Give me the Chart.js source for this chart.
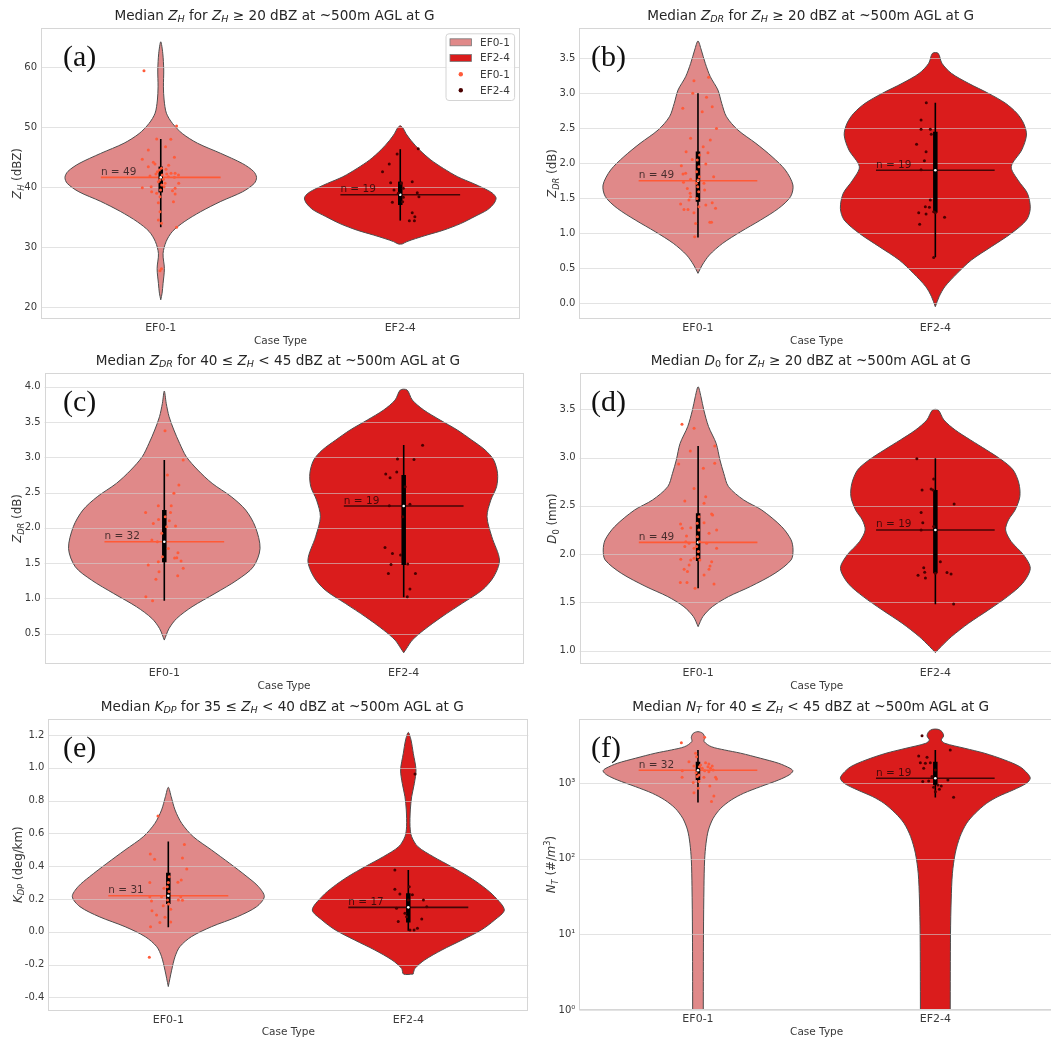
<!DOCTYPE html>
<html>
<head>
<meta charset="utf-8">
<script src="https://cdn.jsdelivr.net/npm/chart.js@4.4.1/dist/chart.umd.min.js"></script>
<style>
  html, body { margin: 0; padding: 0; background: #fff; overflow: hidden; width: 1051px; height: 1038px; }
  canvas { position: absolute; }
</style>
</head>
<body>
<canvas id="pa"></canvas>
<canvas id="pb"></canvas>
<canvas id="pc"></canvas>
<canvas id="pd"></canvas>
<canvas id="pe"></canvas>
<canvas id="pf"></canvas>
<script>
// ---------- categories ----------
const caseTypes = ['EF0-1', 'EF2-4'];

// Violin profiles are [value, relative width] pairs (1 = widest part of that violin).
// Box summaries are [lower whisker, q1, median, q3, upper whisker].
// Strip points are [horizontal jitter in category units, value].

// ---------- (a) median ZH, ZH >= 20 dBZ ----------
const zhTicks = [20, 30, 40, 50, 60];
const zhCounts = [49, 19];
const zhViolin01 = [[21.2,0],[22.3,0.014],[23.9,0.024],[26.4,0.038],[28.9,0.024],[30.9,0.056],[32.6,0.122],[34.2,0.244],[35.9,0.418],[37.6,0.627],[39.2,0.854],[40.6,0.976],[41.6,1.0],[42.6,0.969],[43.9,0.854],[45.6,0.627],[47.3,0.383],[48.9,0.226],[50.6,0.122],[52.3,0.059],[54.5,0.035],[56.7,0.028],[59.5,0.031],[62.3,0.021],[64.2,0]];
const zhViolin24 = [[30.5,0.02],[30.9,0.07],[31.4,0.16],[32.0,0.28],[32.8,0.45],[33.9,0.63],[35.1,0.78],[36.2,0.91],[37.3,0.98],[38.2,1.0],[39.0,0.96],[39.8,0.87],[40.6,0.76],[41.7,0.6],[43.1,0.45],[44.5,0.32],[46.2,0.2],[47.8,0.11],[48.9,0.06],[49.8,0.03],[50.2,0]];
const zhBox01 = [33.3, 39.1, 41.6, 43.4, 48.0];
const zhBox24 = [34.4, 37.0, 38.7, 40.9, 46.3];
const zhPts01 = [[-0.070,59.39],[0.066,50.16],[-0.017,48.0],[0.042,47.94],[0.020,46.72],[-0.052,46.16],[0.057,44.94],[-0.077,44.61],[-0.031,44.11],[-0.024,43.83],[-0.052,43.39],[0.003,43.11],[-0.014,42.56],[0.043,42.28],[0.025,42.16],[0.060,42.28],[0.074,42.0],[-0.045,41.83],[0.032,41.72],[0.057,41.61],[0.011,41.28],[-0.010,40.89],[0.018,40.61],[0.075,40.61],[-0.040,40.06],[-0.077,39.89],[0.060,39.78],[0.049,39.39],[-0.038,39.22],[0.060,38.83],[-0.003,38.39],[0.053,37.56],[-0.010,37.39],[-0.003,35.89],[-0.010,34.5],[0.003,33.94],[0.066,33.28],[-0.003,26.05],[0.003,26.39],[-0.006,42.83],[0.006,42.0],[-0.004,41.16],[0.004,40.33],[-0.001,39.5],[-0.020,42.16],[0.022,42.94],[0.014,40.06],[-0.017,38.94],[0.033,43.61]];
const zhPts24 = [[0.075,46.39],[-0.013,45.5],[-0.046,43.83],[-0.074,42.56],[-0.040,40.72],[0.050,40.89],[0.013,39.78],[-0.026,39.5],[0.071,39.05],[0.078,38.39],[0.013,38.28],[-0.033,37.44],[0.010,37.55],[0.050,35.72],[0.061,35.05],[0.038,34.39],[0.059,34.39],[-0.008,38.94],[0.004,40.61]];

// ---------- (b) median ZDR, ZH >= 20 dBZ ----------
const zdrTicks = [0.0, 0.5, 1.0, 1.5, 2.0, 2.5, 3.0, 3.5];
const zdrCounts = [49, 19];
const zdrViolin01 = [[0.428,0],[0.547,0.045],[0.690,0.12],[0.857,0.26],[1.023,0.45],[1.190,0.66],[1.357,0.85],[1.523,0.975],[1.690,1.0],[1.904,0.92],[2.095,0.78],[2.285,0.61],[2.476,0.42],[2.666,0.30],[2.857,0.25],[3.047,0.21],[3.237,0.13],[3.428,0.077],[3.618,0.035],[3.747,0]];
const zdrViolin24 = [[-0.048,0],[0.095,0.04],[0.237,0.10],[0.428,0.23],[0.618,0.38],[0.809,0.59],[0.999,0.80],[1.190,0.96],[1.357,1.0],[1.571,0.97],[1.761,0.87],[1.952,0.80],[2.190,0.91],[2.404,0.96],[2.571,0.93],[2.714,0.86],[2.857,0.74],[2.999,0.56],[3.142,0.35],[3.285,0.17],[3.428,0.07],[3.571,0.03]];
const zdrBox01 = [0.94, 1.45, 1.75, 2.17, 3.00];
const zdrBox24 = [0.657, 1.294, 1.90, 2.45, 2.866];
const zdrPts01 = [[-0.017,3.180],[0.045,3.228],[-0.022,3.0],[0.036,2.942],[-0.064,2.785],[0.060,2.809],[0.018,2.738],[0.078,2.499],[-0.031,2.357],[0.052,2.333],[-0.050,2.166],[0.022,2.237],[0.042,2.152],[-0.070,1.966],[-0.024,2.056],[0.033,1.990],[-0.052,1.857],[-0.063,1.847],[0.066,1.809],[-0.031,1.771],[-0.061,1.728],[-0.045,1.642],[-0.033,1.571],[0.025,1.714],[0.028,1.619],[-0.073,1.418],[-0.038,1.476],[-0.059,1.342],[-0.042,1.342],[0.033,1.404],[0.060,1.437],[0.074,1.357],[-0.017,1.295],[-0.031,1.523],[-0.010,1.142],[0.050,1.157],[0.057,1.157],[-0.014,0.952],[0.004,1.380],[-0.003,2.047],[0.004,1.952],[-0.006,1.880],[0.006,1.809],[-0.001,1.666],[0.003,1.595],[-0.004,1.499],[0.007,2.118],[0.001,1.761],[-0.007,1.714]];
const zdrPts24 = [[-0.038,2.866],[-0.060,2.618],[-0.060,2.485],[-0.021,2.485],[-0.017,2.414],[-0.079,2.271],[-0.039,2.166],[-0.046,2.037],[-0.060,1.909],[-0.021,1.476],[-0.042,1.380],[-0.025,1.371],[-0.007,1.309],[0.0,1.295],[-0.070,1.295],[-0.039,1.276],[0.039,1.228],[-0.066,1.128],[-0.007,0.656]];

// ---------- (c) median ZDR, 40 <= ZH < 45 dBZ ----------
const zdr40Ticks = [0.5, 1.0, 1.5, 2.0, 2.5, 3.0, 3.5, 4.0];
const zdr40Counts = [32, 19];
const zdr40Violin01 = [[0.410,0],[0.575,0.05],[0.717,0.13],[0.882,0.29],[1.071,0.53],[1.260,0.76],[1.449,0.93],[1.709,1.0],[2.016,0.95],[2.252,0.85],[2.441,0.70],[2.630,0.50],[2.819,0.35],[3.008,0.23],[3.197,0.16],[3.386,0.10],[3.575,0.05],[3.764,0.02],[3.939,0]];
const zdr40Violin24 = [[0.231,0],[0.292,0.03],[0.410,0.09],[0.552,0.21],[0.741,0.40],[0.930,0.61],[1.119,0.82],[1.308,0.94],[1.544,1.0],[1.874,0.92],[2.158,0.87],[2.394,0.91],[2.583,0.97],[2.772,0.98],[2.961,0.94],[3.103,0.85],[3.244,0.71],[3.386,0.56],[3.528,0.38],[3.669,0.21],[3.811,0.09],[3.953,0.035]];
const zdr40Box01 = [0.967, 1.511, 1.804, 2.252, 2.961];
const zdr40Box24 = [1.015, 1.473, 2.309, 2.748, 3.173];
const zdr40Pts01 = [[0.003,3.377],[0.079,2.961],[0.013,2.748],[0.061,2.607],[0.040,2.489],[-0.025,2.314],[0.029,2.314],[-0.078,2.219],[0.026,2.219],[-0.024,2.120],[-0.046,2.063],[0.021,2.101],[0.047,2.026],[-0.052,1.827],[-0.029,1.804],[0.017,1.709],[-0.008,1.591],[0.057,1.648],[0.043,1.572],[0.052,1.577],[0.070,1.530],[-0.025,1.520],[-0.067,1.473],[0.079,1.426],[-0.022,1.378],[0.056,1.322],[-0.035,1.270],[-0.077,1.024],[-0.049,0.967],[0.010,2.016],[-0.011,1.922],[0.004,2.158]];
const zdr40Pts24 = [[0.079,3.169],[-0.026,2.975],[0.043,2.970],[-0.075,2.763],[-0.057,2.711],[-0.029,2.791],[0.006,2.583],[-0.060,2.314],[0.026,2.333],[-0.078,1.723],[-0.047,1.638],[-0.013,1.615],[-0.053,1.482],[0.017,1.487],[-0.064,1.355],[0.049,1.355],[0.026,1.133],[0.015,1.024],[-0.004,2.158]];

// ---------- (d) median D0, ZH >= 20 dBZ ----------
const d0Ticks = [1.0, 1.5, 2.0, 2.5, 3.0, 3.5];
const d0Counts = [49, 19];
const d0Violin01 = [[1.249,0],[1.353,0.05],[1.456,0.15],[1.560,0.32],[1.664,0.55],[1.802,0.81],[1.940,0.98],[2.043,1.0],[2.147,0.98],[2.285,0.88],[2.457,0.67],[2.561,0.48],[2.699,0.32],[2.837,0.27],[2.975,0.23],[3.147,0.19],[3.320,0.11],[3.492,0.06],[3.630,0.03],[3.734,0]];
const d0Violin24 = [[0.980,0],[1.042,0.06],[1.146,0.17],[1.284,0.35],[1.422,0.56],[1.560,0.76],[1.698,0.92],[1.853,1.0],[1.991,0.93],[2.129,0.80],[2.250,0.74],[2.354,0.77],[2.457,0.84],[2.595,0.89],[2.733,0.88],[2.871,0.82],[2.975,0.70],[3.078,0.54],[3.182,0.37],[3.285,0.21],[3.389,0.09],[3.492,0.03]];
const d0Box01 = [1.646, 1.929, 2.122, 2.423, 3.12];
const d0Box24 = [1.481, 1.802, 2.25, 2.664, 2.992];
const d0Pts01 = [[-0.068,3.344],[-0.017,3.303],[-0.033,3.068],[0.070,3.120],[-0.082,2.933],[0.022,2.889],[0.070,2.940],[-0.017,2.681],[0.032,2.595],[-0.056,2.550],[0.025,2.526],[0.057,2.416],[0.061,2.405],[-0.074,2.312],[-0.031,2.274],[-0.067,2.267],[0.078,2.250],[0.046,2.216],[0.025,2.326],[-0.049,2.188],[-0.052,2.129],[-0.038,2.112],[0.036,2.112],[-0.056,2.078],[0.078,2.060],[-0.017,2.060],[-0.073,1.947],[-0.031,1.940],[-0.017,1.957],[0.057,1.922],[0.050,1.877],[-0.059,1.843],[-0.038,1.888],[-0.045,1.819],[0.046,1.843],[0.025,1.784],[-0.075,1.705],[-0.047,1.705],[0.067,1.691],[-0.013,1.646],[0.004,2.388],[-0.004,2.319],[0.003,2.250],[-0.003,2.181],[0.006,2.129],[-0.006,2.078],[0.001,2.026],[-0.001,1.974],[0.007,1.940]];
const d0Pts24 = [[-0.078,2.989],[-0.007,2.778],[-0.056,2.664],[-0.018,2.675],[-0.010,2.664],[0.079,2.519],[-0.060,2.430],[-0.053,2.326],[-0.060,2.250],[0.021,1.922],[-0.049,1.860],[-0.045,1.812],[-0.073,1.781],[-0.042,1.753],[0.049,1.809],[0.066,1.795],[0.077,1.484],[0.0,1.802],[-0.007,2.285]];

// ---------- (e) median KDP, 35 <= ZH < 40 dBZ ----------
const kdpTicks = [-0.4, -0.2, 0.0, 0.2, 0.4, 0.6, 0.8, 1.0, 1.2];
const kdpCounts = [31, 17];
const kdpViolin01 = [[-0.334,0],[-0.234,0.035],[-0.152,0.07],[-0.091,0.12],[-0.030,0.24],[0.031,0.45],[0.092,0.72],[0.153,0.92],[0.214,1.0],[0.275,0.94],[0.336,0.82],[0.417,0.64],[0.499,0.45],[0.580,0.26],[0.661,0.14],[0.743,0.07],[0.824,0.03],[0.881,0]];
const kdpViolin24 = [[-0.258,0.05],[-0.223,0.07],[-0.172,0.17],[-0.111,0.35],[-0.050,0.56],[0.011,0.76],[0.072,0.90],[0.133,1.0],[0.214,0.90],[0.275,0.78],[0.336,0.63],[0.397,0.45],[0.458,0.26],[0.519,0.10],[0.580,0.035],[0.641,0.018],[0.743,0.021],[0.824,0.035],[0.905,0.063],[0.987,0.08],[1.088,0.052],[1.170,0.028],[1.216,0]];
const kdpBox01 = [0.027, 0.170, 0.220, 0.360, 0.550];
const kdpBox24 = [0.007, 0.056, 0.149, 0.235, 0.377];
const kdpPts01 = [[-0.043,0.706],[0.067,0.533],[-0.075,0.474],[-0.057,0.442],[0.059,0.450],[0.077,0.383],[0.054,0.316],[-0.077,0.300],[0.040,0.302],[-0.018,0.265],[-0.077,0.214],[-0.028,0.214],[0.052,0.214],[0.059,0.192],[-0.070,0.188],[0.042,0.194],[-0.021,0.159],[-0.068,0.129],[0.010,0.137],[-0.049,0.102],[-0.014,0.088],[-0.035,0.056],[0.010,0.060],[-0.074,0.031],[-0.079,-0.156],[0.0,0.300],[0.004,0.336],[-0.004,0.275],[0.003,0.245],[-0.003,0.194],[0.001,0.170]];
const kdpPts24 = [[0.028,0.962],[-0.056,0.377],[-0.056,0.259],[-0.035,0.230],[0.017,0.226],[0.063,0.194],[0.077,0.153],[-0.049,0.143],[-0.014,0.113],[-0.042,0.062],[0.056,0.078],[0.038,0.021],[0.007,0.011],[0.024,0.011],[0.0,0.194],[-0.007,0.092],[0.004,0.275]];

// ---------- (f) median NT, 40 <= ZH < 45 dBZ (log axis) ----------
const ntTicks = [1, 10, 100, 1000];
const ntTickLabels = ['10\u2070', '10\u00b9', '10\u00b2', '10\u00b3'];
const ntCounts = [32, 19];
const ntViolin01 = [[0.3,0.056],[1.0,0.056],[10.4,0.058],[43,0.063],[97,0.07],[161,0.085],[241,0.11],[344,0.16],[467,0.24],[601,0.35],[737,0.48],[904,0.66],[1107,0.85],[1289,0.96],[1456,1.0],[1578,0.97],[1838,0.85],[2140,0.66],[2500,0.45],[2760,0.28],[3050,0.14],[3560,0.065],[4060,0.07],[4580,0.05],[4820,0]];
const ntViolin24 = [[0.3,0.157],[1.0,0.157],[10.4,0.16],[28.6,0.167],[64.4,0.18],[119,0.21],[197,0.26],[296,0.33],[401,0.42],[543,0.54],[666,0.66],[816,0.82],[1000,0.96],[1164,1.0],[1355,0.97],[1660,0.89],[2034,0.73],[2495,0.52],[2904,0.31],[3383,0.10],[3742,0.063],[4227,0.087],[4819,0.07],[5176,0.03]];
const ntBox01 = [555, 1107, 1490, 1933, 2762];
const ntBox24 = [646, 950, 1165, 1933, 2760];
const ntPts01 = [[-0.070,3450],[0.028,4055],[-0.010,2495],[-0.038,1932],[0.032,1874],[0.046,1800],[0.011,1746],[0.060,1694],[0.053,1578],[0.028,1469],[0.046,1425],[0.064,1500],[-0.066,1469],[-0.008,1383],[0.074,1199],[0.078,1140],[-0.067,1199],[0.025,1199],[0.004,1052],[-0.020,1021],[0.050,921],[-0.017,752],[0.067,679],[0.057,572],[0.004,1289],[-0.006,2250],[0.006,1660],[-0.003,1225],[0.001,859],[0.018,1578],[-0.017,1694],[0.042,1660]];
const ntPts24 = [[-0.056,4266],[0.063,2761],[-0.070,2298],[-0.035,2207],[-0.063,1874],[-0.042,1838],[-0.021,1874],[-0.049,1578],[0.0,1500],[-0.053,1052],[-0.028,1074],[0.053,1107],[0.011,951],[0.025,921],[0.017,832],[0.0,775],[0.077,653],[-0.007,885],[-0.014,1225]];

// ---------- styling ----------
const FONT = '"DejaVu Sans", sans-serif';
const TEXT = '#3a3a3a';
const GRID = 'rgba(208,208,208,0.6)';
const FRAME = '#d6d6d6';
const VIOLIN_FILL = ['#e08989', '#da1c1c'];
const VIOLIN_EDGE = '#4d4d4d';
const POINT_COLOR = ['#ff5b3a', '#4a0000'];
const MEDIAN_COLOR = ['#ff5a36', 'rgba(25,0,0,0.78)'];
const N_LABEL_COLOR = 'rgba(0,0,0,0.68)';
const HALF_WIDTH = 0.4;   // half of the violin width at its widest, in category units
const MED_HALF = 0.25;    // half length of the median marker line
const TITLE_SIZE = 13.6;
const YTITLE_SIZE = 11.8;

Chart.defaults.font.family = FONT;
Chart.defaults.color = TEXT;
Chart.defaults.animation = false;

const fmt1 = v => v.toFixed(1);
const ZH = [['Z', 'i'], ['H', 'ib']];
const ZDR = [['Z', 'i'], ['DR', 'ib']];
const tail = [[' at ~500m AGL at G']];

const panels = [
  { id: 'pa', canvas: {x: 0, y: 0, w: 535, h: 350}, area: {l: 41, t: 28, r: 520, b: 319},
    yMin: 18.0, yMax: 66.5, ticks: zhTicks, tickLabels: zhTicks.map(String),
    violins: [zhViolin01, zhViolin24], boxes: [zhBox01, zhBox24], points: [zhPts01, zhPts24], counts: zhCounts,
    title: [['Median '], ...ZH, [' for '], ...ZH, [' \u2265 20 dBZ'], ...tail],
    yTitle: [...ZH, [' (dBZ)']], tag: '(a)', tagX: 63, legend: true },
  { id: 'pb', canvas: {x: 530, y: 0, w: 528, h: 350}, area: {l: 579.3, t: 28, r: 1058, b: 319},
    yMin: -0.224, yMax: 3.933, ticks: zdrTicks, tickLabels: zdrTicks.map(fmt1),
    violins: [zdrViolin01, zdrViolin24], boxes: [zdrBox01, zdrBox24], points: [zdrPts01, zdrPts24], counts: zdrCounts,
    title: [['Median '], ...ZDR, [' for '], ...ZH, [' \u2265 20 dBZ'], ...tail],
    yTitle: [...ZDR, [' (dB)']], tag: '(b)', tagX: 591 },
  { id: 'pc', canvas: {x: 0, y: 345, w: 535, h: 350}, area: {l: 44.6, t: 373, r: 523.4, b: 664},
    yMin: 0.071, yMax: 4.194, ticks: zdr40Ticks, tickLabels: zdr40Ticks.map(fmt1),
    violins: [zdr40Violin01, zdr40Violin24], boxes: [zdr40Box01, zdr40Box24], points: [zdr40Pts01, zdr40Pts24], counts: zdr40Counts,
    title: [['Median '], ...ZDR, [' for 40 \u2264 '], ...ZH, [' < 45 dBZ'], ...tail],
    yTitle: [...ZDR, [' (dB)']], tag: '(c)', tagX: 63 },
  { id: 'pd', canvas: {x: 530, y: 345, w: 528, h: 350}, area: {l: 579.5, t: 373, r: 1058, b: 664},
    yMin: 0.862, yMax: 3.876, ticks: d0Ticks, tickLabels: d0Ticks.map(fmt1),
    violins: [d0Violin01, d0Violin24], boxes: [d0Box01, d0Box24], points: [d0Pts01, d0Pts24], counts: d0Counts,
    title: [['Median '], ['D', 'i'], ['0', 'b'], [' for '], ...ZH, [' \u2265 20 dBZ'], ...tail],
    yTitle: [['D', 'i'], ['0', 'b'], [' (mm)']], tag: '(d)', tagX: 591 },
  { id: 'pe', canvas: {x: 0, y: 691, w: 535, h: 347}, area: {l: 48.3, t: 719, r: 528.3, b: 1010.5},
    yMin: -0.48, yMax: 1.2976, ticks: kdpTicks, tickLabels: kdpTicks.map(fmt1),
    violins: [kdpViolin01, kdpViolin24], boxes: [kdpBox01, kdpBox24], points: [kdpPts01, kdpPts24], counts: kdpCounts,
    title: [['Median '], ['K', 'i'], ['DP', 'ib'], [' for 35 \u2264 '], ...ZH, [' < 40 dBZ'], ...tail],
    yTitle: [['K', 'i'], ['DP', 'ib'], [' (deg/km)']], tag: '(e)', tagX: 63 },
  { id: 'pf', canvas: {x: 530, y: 691, w: 528, h: 347}, area: {l: 579.3, t: 719, r: 1058, b: 1010},
    log: true, yMin: 1, yMax: 7089, ticks: ntTicks, tickLabels: ntTickLabels,
    violins: [ntViolin01, ntViolin24], boxes: [ntBox01, ntBox24], points: [ntPts01, ntPts24], counts: ntCounts,
    title: [['Median '], ['N', 'i'], ['T', 'ib'], [' for 40 \u2264 '], ...ZH, [' < 45 dBZ'], ...tail],
    yTitle: [['N', 'i'], ['T', 'ib'], [' (#/'], ['m', 'i'], ['3', 'p'], [')']], tag: '(f)', tagX: 591 }
];

// ---------- text helpers (sub/superscripts, italics) ----------
function segFont(flags, size) {
  const small = flags.includes('b') || flags.includes('p');
  return (flags.includes('i') ? 'italic ' : '') + (small ? size * 0.7 : size) + 'px ' + FONT;
}
function richWidth(ctx, segs, size) {
  let w = 0;
  for (const [t, f = ''] of segs) { ctx.font = segFont(f, size); w += ctx.measureText(t).width; }
  return w;
}
function drawRich(ctx, segs, x, baseline, size, color, align) {
  let cx = align === 'center' ? x - richWidth(ctx, segs, size) / 2 : x;
  ctx.fillStyle = color;
  ctx.textAlign = 'left';
  ctx.textBaseline = 'alphabetic';
  for (const [t, f = ''] of segs) {
    ctx.font = segFont(f, size);
    const dy = f.includes('b') ? size * 0.22 : f.includes('p') ? -size * 0.42 : 0;
    ctx.fillText(t, cx, baseline + dy);
    cx += ctx.measureText(t).width;
  }
}

// ---------- violin outline: right side upward, left side back down ----------
function violinOutline(profile, k) {
  const asc = profile.slice().sort((p, q) => p[0] - q[0]);
  const right = asc.map(([y, w]) => ({x: k + w * HALF_WIDTH, y}));
  const left = asc.slice().reverse().map(([y, w]) => ({x: k - w * HALF_WIDTH, y}));
  const ring = right.concat(left, [right[0]]);
  return ring.filter((p, i) => i === 0 || p.x !== ring[i - 1].x || p.y !== ring[i - 1].y);
}

function buildDatasets(p) {
  const ds = [];
  [0, 1].forEach(k => {
    ds.push({
      type: 'line', data: violinOutline(p.violins[k], k), fill: 'shape',
      backgroundColor: VIOLIN_FILL[k], borderColor: VIOLIN_EDGE, borderWidth: 1,
      pointRadius: 0, tension: 0.3, capBezierPoints: false, order: 8 - k, overlayGrid: k === 1
    });
  });
  [0, 1].forEach(k => {
    const [lo, q1, med, q3, hi] = p.boxes[k];
    ds.push({ type: 'line', data: [{x: k - MED_HALF, y: med}, {x: k + MED_HALF, y: med}],
      borderColor: MEDIAN_COLOR[k], borderWidth: 1.6, pointRadius: 0, order: 5 });
    ds.push({ type: 'line', data: [{x: k, y: lo}, {x: k, y: hi}],
      borderColor: '#000', borderWidth: 1.6, pointRadius: 0, order: 4 });
    ds.push({ type: 'line', data: [{x: k, y: q1}, {x: k, y: q3}],
      borderColor: '#000', borderWidth: 4.5, borderCapStyle: 'butt', pointRadius: 0, order: 3 });
    ds.push({ type: 'scatter', data: [{x: k, y: med}],
      pointRadius: 1.3, pointBackgroundColor: '#fff', pointBorderWidth: 0, order: 2 });
    ds.push({ type: 'scatter', data: p.points[k].map(([dx, y]) => ({x: k + dx, y})),
      pointRadius: 1.5, pointBackgroundColor: POINT_COLOR[k], pointBorderWidth: 0, order: 1 });
  });
  return ds;
}

// grid lines drawn over the violins (light, translucent)
function drawGrid(chart) {
  const ctx = chart.ctx, a = chart.chartArea, ys = chart.scales.y;
  ctx.save();
  ctx.strokeStyle = GRID;
  ctx.lineWidth = 1;
  ctx.beginPath();
  ys.ticks.forEach(t => {
    const py = Math.round(ys.getPixelForValue(t.value)) + 0.5;
    ctx.moveTo(a.left, py);
    ctx.lineTo(a.right, py);
  });
  ctx.stroke();
  ctx.restore();
}

function drawLegend(ctx, a) {
  const bx = a.right - 74.5, by = a.top + 5.3, bw = 68.6, bh = 66.7;
  ctx.save();
  ctx.beginPath();
  ctx.roundRect(bx + 0.5, by + 0.5, bw, bh, 3);
  ctx.fillStyle = 'rgba(255,255,255,0.85)';
  ctx.fill();
  ctx.strokeStyle = '#d4d4d4';
  ctx.lineWidth = 1;
  ctx.stroke();
  ctx.font = '10.5px ' + FONT;
  ctx.textAlign = 'left';
  ctx.textBaseline = 'middle';
  const rows = [9, 24.7, 41, 57];
  caseTypes.forEach((name, k) => {
    const yc = by + rows[k];
    ctx.fillStyle = VIOLIN_FILL[k];
    ctx.fillRect(bx + 4.5, yc - 3.5, 21.5, 7);
    ctx.strokeStyle = '#7a7a7a';
    ctx.lineWidth = 0.8;
    ctx.strokeRect(bx + 4.5, yc - 3.5, 21.5, 7);
    ctx.fillStyle = TEXT;
    ctx.fillText(name, bx + 34.5, yc + 0.5);
  });
  caseTypes.forEach((name, k) => {
    const yc = by + rows[k + 2];
    ctx.beginPath();
    ctx.arc(bx + 15.3, yc, 2.2, 0, Math.PI * 2);
    ctx.fillStyle = POINT_COLOR[k];
    ctx.fill();
    ctx.fillStyle = TEXT;
    ctx.fillText(name, bx + 34.5, yc + 0.5);
  });
  ctx.restore();
}

function decorPlugin(p) {
  return {
    id: 'decor',
    afterDatasetDraw(chart, args) {
      if (chart.data.datasets[args.index].overlayGrid) drawGrid(chart);
    },
    afterDraw(chart) {
      const ctx = chart.ctx, a = chart.chartArea, xs = chart.scales.x, ys = chart.scales.y;
      ctx.save();
      // axes frame
      ctx.strokeStyle = FRAME;
      ctx.lineWidth = 1;
      ctx.strokeRect(Math.round(a.left) + 0.5, Math.round(a.top) + 0.5,
                     Math.round(a.right - a.left) - 1, Math.round(a.bottom - a.top) - 1);
      // sample counts next to the median markers
      ctx.font = '10.5px ' + FONT;
      ctx.textAlign = 'left';
      ctx.textBaseline = 'alphabetic';
      ctx.fillStyle = N_LABEL_COLOR;
      p.boxes.forEach((bx, k) => {
        ctx.fillText('n = ' + p.counts[k], xs.getPixelForValue(k - MED_HALF), ys.getPixelForValue(bx[2]) - 2.5);
      });
      // title
      drawRich(ctx, p.title, (a.left + a.right) / 2 - 6, a.top - 8.5, TITLE_SIZE, '#262626', 'center');
      // x axis title
      ctx.font = '10.5px ' + FONT;
      ctx.textAlign = 'center';
      ctx.textBaseline = 'middle';
      ctx.fillStyle = TEXT;
      ctx.fillText('Case Type', (a.left + a.right) / 2, a.bottom + 22);
      // y axis title, placed left of the widest tick label
      ctx.font = '10px ' + FONT;
      const widest = Math.max(...p.tickLabels.map(s => ctx.measureText(s).width));
      const tx = a.left - 4 - widest - 7.5;
      ctx.save();
      ctx.translate(tx, (a.top + a.bottom) / 2);
      ctx.rotate(-Math.PI / 2);
      drawRich(ctx, p.yTitle, 0, YTITLE_SIZE * 0.36, YTITLE_SIZE, TEXT, 'center');
      ctx.restore();
      // panel tag
      ctx.font = '30px "Liberation Serif", serif';
      ctx.textAlign = 'left';
      ctx.textBaseline = 'alphabetic';
      ctx.fillStyle = '#111';
      ctx.fillText(p.tag, p.tagX - p.canvas.x, a.top + 38);
      if (p.legend) drawLegend(ctx, a);
      ctx.restore();
    }
  };
}

panels.forEach(p => {
  const cv = document.getElementById(p.id);
  cv.width = p.canvas.w;
  cv.height = p.canvas.h;
  cv.style.left = p.canvas.x + 'px';
  cv.style.top = p.canvas.y + 'px';
  cv.style.width = p.canvas.w + 'px';
  cv.style.height = p.canvas.h + 'px';
  new Chart(cv, {
    type: 'scatter',
    data: { datasets: buildDatasets(p) },
    options: {
      responsive: false,
      animation: false,
      events: [],
      layout: { padding: { top: p.area.t - p.canvas.y, right: p.canvas.x + p.canvas.w - p.area.r, left: 0, bottom: 0 } },
      plugins: { legend: { display: false }, tooltip: { enabled: false } },
      scales: {
        x: {
          type: 'linear', min: -0.5, max: 1.5,
          afterBuildTicks: s => { s.ticks = caseTypes.map((_, i) => ({value: i})); },
          afterFit: s => { s.height = p.canvas.y + p.canvas.h - p.area.b; },
          ticks: { callback: (v, i) => caseTypes[i], padding: 3, font: {size: 11}, color: TEXT, maxRotation: 0, autoSkip: false },
          grid: { display: false, drawTicks: false },
          border: { display: false }
        },
        y: {
          type: p.log ? 'logarithmic' : 'linear', min: p.yMin, max: p.yMax,
          afterBuildTicks: s => { s.ticks = p.ticks.map(v => ({value: v})); },
          afterFit: s => { s.width = p.area.l - p.canvas.x; },
          ticks: { callback: (v, i) => p.tickLabels[i], padding: 4, font: {size: 10}, color: TEXT, autoSkip: false },
          grid: { display: false, drawTicks: false },
          border: { display: false }
        }
      }
    },
    plugins: [decorPlugin(p)]
  });
});
</script>
</body>
</html>
